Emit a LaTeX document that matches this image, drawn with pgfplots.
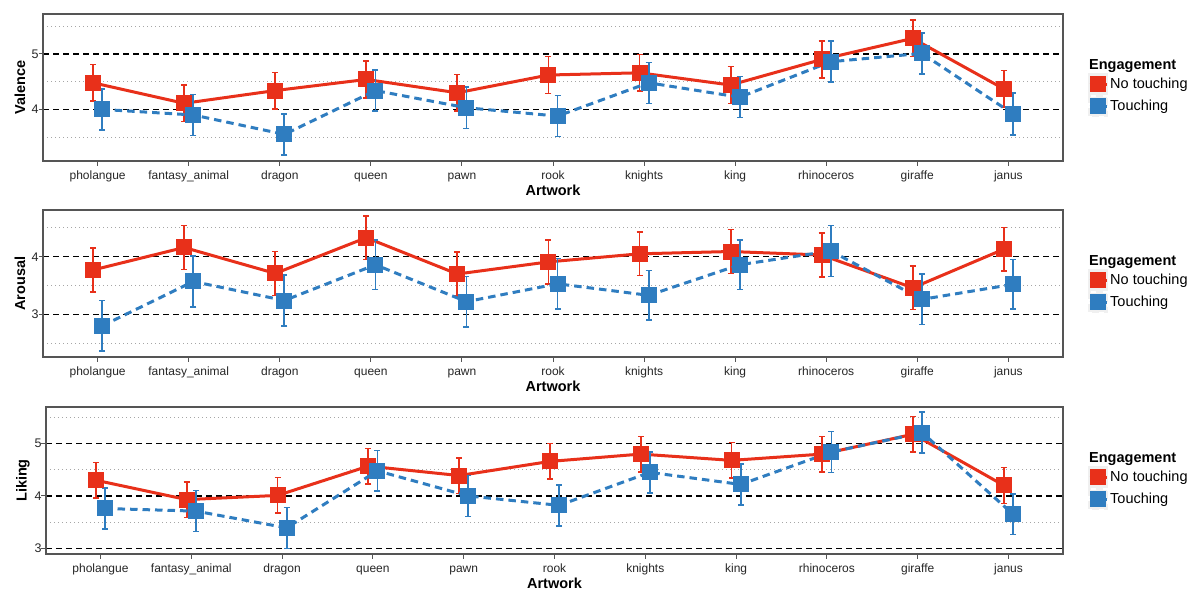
\documentclass[border=0pt]{standalone}
\usepackage{fontspec}
\setmainfont{Liberation Sans}
\usepackage{pgfplots}
\pgfplotsset{compat=1.18}
\usepackage{pgfplotstable}

\definecolor{cred}{HTML}{E8301A}
\definecolor{cblue}{HTML}{2F7DC0}
\definecolor{axgray}{HTML}{555555}

% Valence
\pgfplotstableread{
x y e
0.95 4.48 0.33
1.95 4.11 0.33
2.95 4.34 0.33
3.95 4.54 0.33
4.95 4.30 0.33
5.95 4.62 0.33
6.95 4.66 0.33
7.95 4.44 0.33
8.95 4.90 0.33
9.95 5.28 0.33
10.95 4.37 0.33
}\valNo
\pgfplotstableread{
x y e
1.05 4.00 0.37
2.05 3.90 0.37
3.05 3.55 0.37
4.05 4.34 0.37
5.05 4.03 0.37
6.05 3.88 0.37
7.05 4.48 0.37
8.05 4.22 0.37
9.05 4.86 0.37
10.05 5.01 0.37
11.05 3.92 0.38
}\valTo
% Arousal
\pgfplotstableread{
x y e
0.95 3.77 0.38
1.95 4.16 0.38
2.95 3.71 0.38
3.95 4.33 0.38
4.95 3.70 0.38
5.95 3.91 0.38
6.95 4.05 0.38
7.95 4.09 0.38
8.95 4.03 0.38
9.95 3.46 0.38
10.95 4.13 0.38
}\aroNo
\pgfplotstableread{
x y e
1.05 2.80 0.44
2.05 3.57 0.44
3.05 3.24 0.44
4.05 3.86 0.43
5.05 3.22 0.44
6.05 3.53 0.44
7.05 3.33 0.43
8.05 3.86 0.43
9.05 4.10 0.44
10.05 3.26 0.44
11.05 3.52 0.43
}\aroTo
% Liking
\pgfplotstableread{
x y e
0.95 4.30 0.34
1.95 3.93 0.34
2.95 4.01 0.34
3.95 4.57 0.34
4.95 4.39 0.34
5.95 4.66 0.34
6.95 4.80 0.34
7.95 4.68 0.34
8.95 4.80 0.34
9.95 5.18 0.34
10.95 4.20 0.34
}\likNo
\pgfplotstableread{
x y e
1.05 3.76 0.39
2.05 3.71 0.39
3.05 3.39 0.39
4.05 4.48 0.39
5.05 4.00 0.39
6.05 3.82 0.39
7.05 4.45 0.39
8.05 4.22 0.39
9.05 4.84 0.39
10.05 5.21 0.39
11.05 3.65 0.39
}\likTo

\pgfplotsset{
  panel/.style={
    scale only axis, width=1020pt, height=147pt,
    xmin=0.4, xmax=11.6,
    xtick={1,2,3,4,5,6,7,8,9,10,11},
    xticklabels={pholangue,fantasy\_animal,dragon,queen,pawn,rook,knights,king,rhinoceros,giraffe,janus},
    tick align=outside, xtick pos=bottom, ytick pos=left,
    major tick length=4.5pt, minor tick length=0pt,
    tick style={axgray, line width=1pt},
    axis line style={axgray, line width=1.2pt},
    ymajorgrids, yminorgrids,
    major grid style={black, line width=1.3pt, dash pattern=on 6pt off 4pt},
    minor grid style={black!35, line width=0.9pt, dash pattern=on 1pt off 3pt},
    tick label style={font=\fontsize{12}{14}\selectfont, text=black!85},
    typeset ticklabels with strut,
    yticklabel style={xshift=3.5pt, yshift=-1.5pt, font=\fontsize{12.5}{14}\selectfont},
    xticklabel style={yshift=-1pt},
    /pgf/number format/assume math mode=true,
    xlabel=Artwork,
    every axis x label/.style={at={(rel axis cs:0.5,0)}, yshift=-29pt, anchor=center,
      font=\bfseries\fontsize{14.5}{16}\selectfont},
    every axis y label/.style={at={(rel axis cs:0,0.5)}, xshift=-23pt, rotate=90, anchor=center,
      font=\bfseries\fontsize{14.5}{16}\selectfont},
    legend style={at={(rel axis cs:1,0.5)}, anchor=west, xshift=25pt, draw=none, fill=none,
      inner sep=0pt, font=\fontsize{14.5}{16}\selectfont, row sep=0pt,
      nodes={inner sep=2pt}},
    legend cell align=left,
    legend image code/.code={
      \fill[black!6] (0pt,-9.5pt) rectangle (17pt,9.5pt);
      \draw[mark repeat=2,mark phase=2,##1,solid] plot coordinates {(0pt,0pt) (8.5pt,0pt) (17pt,0pt)};
    },
  },
  nt/.style={cred, line width=3pt, solid, mark=square*, mark size=6.5pt, mark options={solid},
    error bars/.cd, y dir=both, y explicit, error mark=|,
    error bar style={line width=1.8pt, cred, solid},
    error mark options={cred, line width=1.5pt, mark size=3pt, solid}},
  tc/.style={cblue, line width=3pt, dash pattern=on 7.5pt off 5pt, mark=square*, mark size=6.5pt, mark options={solid},
    error bars/.cd, y dir=both, y explicit, error mark=|,
    error bar style={line width=1.8pt, cblue, solid},
    error mark options={cblue, line width=1.5pt, mark size=3pt, solid}},
}
\newcommand{\legtitle}{\hspace{-21pt}\textbf{Engagement}\rule[-8pt]{0pt}{1pt}}

\begin{document}
\begin{tikzpicture}[x=1pt,y=1pt]
\path[use as bounding box] (0,0) rectangle (1200,-590);

\begin{axis}[panel, at={(43pt,-14pt)}, anchor=north west,
  ymin=3.07, ymax=5.72, ytick={4,5}, minor ytick={3.5,4.5,5.5}, ylabel=Valence]
\addlegendimage{empty legend}\addlegendentry{\legtitle}
\addplot[nt] table[x=x, y=y, y error=e] {\valNo};\addlegendentry{No touching}
\addplot[tc] table[x=x, y=y, y error=e] {\valTo};\addlegendentry{Touching}
\end{axis}

\begin{axis}[panel, at={(43pt,-210pt)}, anchor=north west,
  ymin=2.26, ymax=4.81, ytick={3,4}, minor ytick={2.5,3.5,4.5}, ylabel=Arousal]
\addlegendimage{empty legend}\addlegendentry{\legtitle}
\addplot[nt] table[x=x, y=y, y error=e] {\aroNo};\addlegendentry{No touching}
\addplot[tc] table[x=x, y=y, y error=e] {\aroTo};\addlegendentry{Touching}
\end{axis}

\begin{axis}[panel, at={(46pt,-407pt)}, anchor=north west, width=1017pt,
  ymin=2.89, ymax=5.70, ytick={3,4,5}, minor ytick={3.5,4.5,5.5}, ylabel=Liking]
\addlegendimage{empty legend}\addlegendentry{\legtitle}
\addplot[nt] table[x=x, y=y, y error=e] {\likNo};\addlegendentry{No touching}
\addplot[tc] table[x=x, y=y, y error=e] {\likTo};\addlegendentry{Touching}
\end{axis}
\end{tikzpicture}
\end{document}
